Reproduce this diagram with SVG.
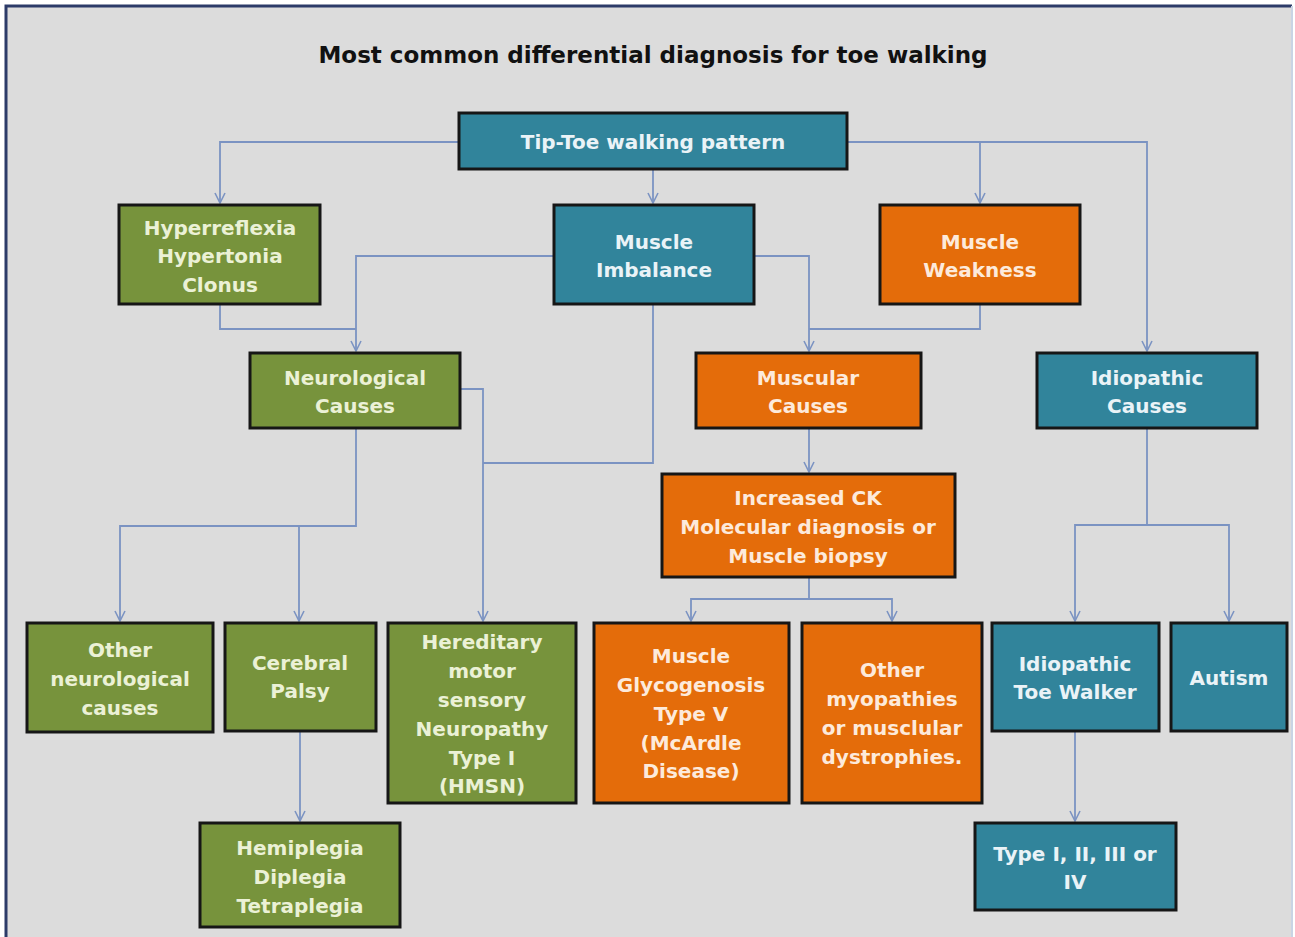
<svg xmlns="http://www.w3.org/2000/svg" width="1295" height="937" viewBox="0 0 1295 937">
<style>
  .box { stroke: #161616; stroke-width: 3; }
  .g { fill: #77933c; }
  .t { fill: #31849b; }
  .o { fill: #e46c0a; }
  .lbl { font-family: "DejaVu Sans", "Liberation Sans", sans-serif; font-weight: bold; font-size: 20px; text-anchor: middle; }
  .lg { fill: #ebf1d6; }
  .lt { fill: #eaf3f7; }
  .lo { fill: #fdeadb; }
  .conn { fill: none; stroke: #7b93c2; stroke-width: 1.8; }
</style>
<defs>
  <marker id="ah" viewBox="0 0 12 12" refX="11" refY="6" markerWidth="12" markerHeight="12" orient="auto" markerUnits="userSpaceOnUse">
    <path d="M1,1 L11,6 L1,11" fill="none" stroke="#7b93c2" stroke-width="1.6"/>
  </marker>
</defs>
<rect x="0" y="0" width="1295" height="937" fill="#ffffff"/>
<rect x="6" y="6" width="1286" height="931" fill="#dcdcdc"/>
<path d="M6,937 V6 H1292" fill="none" stroke="#2c3b68" stroke-width="3"/>
<path d="M1292,6 V937" fill="none" stroke="#c9d4e4" stroke-width="2"/>

<text x="653" y="63" font-family="DejaVu Sans, Liberation Sans, sans-serif" font-weight="bold" font-size="23" fill="#111111" text-anchor="middle">Most common differential diagnosis for toe walking</text>

<g id="connectors">
  <path class="conn" d="M459,142 H220 V203" marker-end="url(#ah)"/>
  <path class="conn" d="M653,169 V203" marker-end="url(#ah)"/>
  <path class="conn" d="M847,142 H1147 V351" marker-end="url(#ah)"/>
  <path class="conn" d="M980,142 V203" marker-end="url(#ah)"/>
  <path class="conn" d="M220,304 V329 H356"/>
  <path class="conn" d="M554,256 H356 V351" marker-end="url(#ah)"/>
  <path class="conn" d="M754,256 H809 V351" marker-end="url(#ah)"/>
  <path class="conn" d="M980,304 V329 H809"/>
  <path class="conn" d="M809,428 V472" marker-end="url(#ah)"/>
  <path class="conn" d="M809,577 V599 H691 V621" marker-end="url(#ah)"/>
  <path class="conn" d="M809,599 H892 V621" marker-end="url(#ah)"/>
  <path class="conn" d="M1147,428 V525 H1075 V621" marker-end="url(#ah)"/>
  <path class="conn" d="M1147,525 H1229 V621" marker-end="url(#ah)"/>
  <path class="conn" d="M356,428 V526 H120 V621" marker-end="url(#ah)"/>
  <path class="conn" d="M299,526 V621" marker-end="url(#ah)"/>
  <path class="conn" d="M460,389 H483 V621" marker-end="url(#ah)"/>
  <path class="conn" d="M653,304 V463 H483"/>
  <path class="conn" d="M300,731 V821" marker-end="url(#ah)"/>
  <path class="conn" d="M1075,731 V821" marker-end="url(#ah)"/>
</g>

<g id="tiptoe">
  <rect class="box t" x="459" y="113" width="388" height="56"/>
  <text class="lbl lt" x="653" y="149">Tip-Toe walking pattern</text>
</g>
<g id="hyper">
  <rect class="box g" x="119" y="205" width="201" height="99"/>
  <text class="lbl lg" x="220" y="235">Hyperreflexia</text>
  <text class="lbl lg" x="220" y="263">Hypertonia</text>
  <text class="lbl lg" x="220" y="292">Clonus</text>
</g>
<g id="imbalance">
  <rect class="box t" x="554" y="205" width="200" height="99"/>
  <text class="lbl lt" x="654" y="249">Muscle</text>
  <text class="lbl lt" x="654" y="277">Imbalance</text>
</g>
<g id="weakness">
  <rect class="box o" x="880" y="205" width="200" height="99"/>
  <text class="lbl lo" x="980" y="249">Muscle</text>
  <text class="lbl lo" x="980" y="277">Weakness</text>
</g>
<g id="neuro">
  <rect class="box g" x="250" y="353" width="210" height="75"/>
  <text class="lbl lg" x="355" y="385">Neurological</text>
  <text class="lbl lg" x="355" y="413">Causes</text>
</g>
<g id="muscular">
  <rect class="box o" x="696" y="353" width="225" height="75"/>
  <text class="lbl lo" x="808" y="385">Muscular</text>
  <text class="lbl lo" x="808" y="413">Causes</text>
</g>
<g id="idiopathic">
  <rect class="box t" x="1037" y="353" width="220" height="75"/>
  <text class="lbl lt" x="1147" y="385">Idiopathic</text>
  <text class="lbl lt" x="1147" y="413">Causes</text>
</g>
<g id="ck">
  <rect class="box o" x="662" y="474" width="293" height="103"/>
  <text class="lbl lo" x="808" y="505">Increased CK</text>
  <text class="lbl lo" x="808" y="534">Molecular diagnosis or</text>
  <text class="lbl lo" x="808" y="563">Muscle biopsy</text>
</g>
<g id="otherneuro">
  <rect class="box g" x="27" y="623" width="186" height="109"/>
  <text class="lbl lg" x="120" y="657">Other</text>
  <text class="lbl lg" x="120" y="686">neurological</text>
  <text class="lbl lg" x="120" y="715">causes</text>
</g>
<g id="cp">
  <rect class="box g" x="225" y="623" width="151" height="108"/>
  <text class="lbl lg" x="300" y="670">Cerebral</text>
  <text class="lbl lg" x="300" y="698">Palsy</text>
</g>
<g id="hmsn">
  <rect class="box g" x="388" y="623" width="188" height="180"/>
  <text class="lbl lg" x="482" y="649">Hereditary</text>
  <text class="lbl lg" x="482" y="678">motor</text>
  <text class="lbl lg" x="482" y="707">sensory</text>
  <text class="lbl lg" x="482" y="736">Neuropathy</text>
  <text class="lbl lg" x="482" y="765">Type I</text>
  <text class="lbl lg" x="482" y="793">(HMSN)</text>
</g>
<g id="glyco">
  <rect class="box o" x="594" y="623" width="195" height="180"/>
  <text class="lbl lo" x="691" y="663">Muscle</text>
  <text class="lbl lo" x="691" y="692">Glycogenosis</text>
  <text class="lbl lo" x="691" y="721">Type V</text>
  <text class="lbl lo" x="691" y="750">(McArdle</text>
  <text class="lbl lo" x="691" y="778">Disease)</text>
</g>
<g id="othermyo">
  <rect class="box o" x="802" y="623" width="180" height="180"/>
  <text class="lbl lo" x="892" y="677">Other</text>
  <text class="lbl lo" x="892" y="706">myopathies</text>
  <text class="lbl lo" x="892" y="735">or musclular</text>
  <text class="lbl lo" x="892" y="764">dystrophies.</text>
</g>
<g id="itw">
  <rect class="box t" x="992" y="623" width="167" height="108"/>
  <text class="lbl lt" x="1075" y="671">Idiopathic</text>
  <text class="lbl lt" x="1075" y="699">Toe Walker</text>
</g>
<g id="autism">
  <rect class="box t" x="1171" y="623" width="116" height="108"/>
  <text class="lbl lt" x="1229" y="685">Autism</text>
</g>
<g id="hemi">
  <rect class="box g" x="200" y="823" width="200" height="104"/>
  <text class="lbl lg" x="300" y="855">Hemiplegia</text>
  <text class="lbl lg" x="300" y="884">Diplegia</text>
  <text class="lbl lg" x="300" y="913">Tetraplegia</text>
</g>
<g id="types">
  <rect class="box t" x="975" y="823" width="201" height="87"/>
  <text class="lbl lt" x="1075" y="861">Type I, II, III or</text>
  <text class="lbl lt" x="1075" y="889">IV</text>
</g>
</svg>
